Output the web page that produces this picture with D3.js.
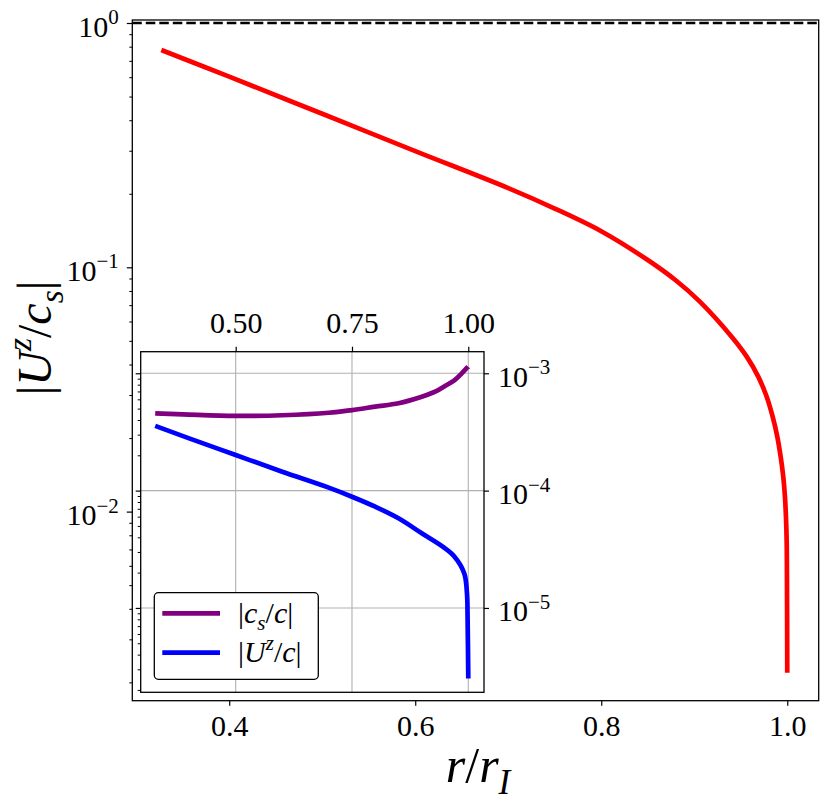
<!DOCTYPE html>
<html>
<head>
<meta charset="utf-8">
<script src="https://cdn.jsdelivr.net/npm/d3@7"></script>
<style>
  body { margin: 0; background: #fff; }
  text { font-family: "Liberation Serif", "DejaVu Serif", serif; fill: #000; }
</style>
</head>
<body>
<script>
// main panel: |U^z / c_s| against r / r_I
const rMain = [0.327, 0.40, 0.50, 0.60, 0.70, 0.75, 0.80, 0.85, 0.88, 0.906, 0.9402, 0.9564, 0.9688, 0.9779, 0.9843, 0.9893, 0.9929, 0.9957, 0.9975, 0.9986, 0.9994, 0.9997, 1.0];
const uzOverCs = [0.775, 0.603, 0.425, 0.299, 0.211, 0.174, 0.1405, 0.1071, 0.0885, 0.0724, 0.0520, 0.0431, 0.0357, 0.02954, 0.02446, 0.02026, 0.01678, 0.01389, 0.01151, 0.00953, 0.00742, 0.00509, 0.00219];
const refLevel = 1.0;

// inset: |c_s / c|
const rCs = [0.327, 0.40, 0.50, 0.60, 0.70, 0.75, 0.80, 0.85, 0.90, 0.93, 0.95, 0.97, 0.985, 0.992, 0.9957, 0.9986, 0.9997, 1.0];
const csOverC = [4.56e-4, 4.44e-4, 4.33e-4, 4.39e-4, 4.61e-4, 4.86e-4, 5.20e-4, 5.55e-4, 6.31e-4, 7.0e-4, 7.80e-4, 8.71e-4, 9.9e-4, 1.06e-3, 1.10e-3, 1.128e-3, 1.135e-3, 1.138e-3];
// inset: |U^z / c|
const rUz = [0.327, 0.40, 0.50, 0.60, 0.70, 0.75, 0.80, 0.85, 0.90, 0.945, 0.97, 0.9914, 0.9972, 0.9985, 1.0];
const uzOverC = [3.56e-4, 2.79e-4, 2.01e-4, 1.45e-4, 1.06e-4, 8.87e-5, 7.29e-5, 5.81e-5, 4.33e-5, 3.33e-5, 2.75e-5, 1.97e-5, 1.33e-5, 8.4e-6, 2.5e-6];

// ticks
const xTicks = [0.4, 0.6, 0.8, 1.0];
const yTickExp = [0, -1, -2];
const insetXTicks = [0.5, 0.75, 1.0];
const insetYExp = [-3, -4, -5];

// labels as math pieces: [text, italic, 'sup' | 'sub']
const xLabel = [['r', 1], ['/'], ['r', 1], ['I', 1, 'sub']];
const yLabel = [['|'], ['U', 1], ['z', 1, 'sup'], ['/'], ['c', 1], ['s', 1, 'sub'], ['|']];
const legendLabels = [
  [['|'], ['c', 1], ['s', 1, 'sub'], ['/'], ['c', 1], ['|']],
  [['|'], ['U', 1], ['z', 1, 'sup'], ['/'], ['c', 1], ['|']]
];
const legendColors = ['purple', '#0000ff'];

let width = 831, height = 805;
let svg = d3.select('body').append('svg')
  .attr('width', width)
  .attr('height', height);

function mathText(t, segs, size) {
  let shift = 0;
  segs.forEach(s => {
    let target = s[2] === 'sup' ? -0.42 * size : s[2] === 'sub' ? 0.24 * size : 0;
    t.append('tspan')
      .attr('dy', target - shift)
      .attr('font-size', s[2] ? size * 0.7 : size)
      .attr('font-style', s[1] ? 'italic' : 'normal')
      .text(s[0]);
    shift = target;
  });
}

function powLabel(t, e, size) {
  t.text(null);
  t.append('tspan').text('10');
  t.append('tspan').attr('dy', -0.42 * size).attr('font-size', size * 0.7)
    .text(e === 0 ? '0' : '\u2212' + (-e));
}

function minorTicks(lo, hi) {
  let out = [];
  for (let e = -7; e <= 1; e++) {
    for (let k = 2; k <= 9; k++) {
      let v = k * Math.pow(10, e);
      if (v >= lo && v <= hi) out.push(v);
    }
  }
  return out;
}

// ---- main axes
let L = 132.3, R = 818.7, T = 20, B = 700.7;
let x = d3.scaleLinear().domain([0.2958, 1.0338]).range([L, R]);
let y = d3.scaleLog().domain([Math.pow(10, -2.774), Math.pow(10, 0.0123)]).range([B, T]);

svg.append('line')
  .attr('x1', L).attr('x2', R)
  .attr('y1', y(refLevel)).attr('y2', y(refLevel))
  .attr('stroke', '#000').attr('stroke-width', 2.6)
  .attr('stroke-dasharray', '9.5,4');

// smooth curve through the read points
let line = d3.line().curve(d3.curveCatmullRom.alpha(0.5));
svg.append('path')
  .attr('d', line(rMain.map((r, i) => [x(r), y(uzOverCs[i])])))
  .attr('fill', 'none').attr('stroke', '#ff0000')
  .attr('stroke-width', 4.7).attr('stroke-linecap', 'butt').attr('stroke-linejoin', 'round');

svg.append('rect')
  .attr('x', L).attr('y', T).attr('width', R - L).attr('height', B - T)
  .attr('fill', 'none').attr('stroke', '#000').attr('stroke-width', 1.3);

// bottom axis
let gx = svg.append('g').attr('transform', `translate(0,${B})`)
  .call(d3.axisBottom(x).tickValues(xTicks).tickSize(5).tickFormat(d3.format('.1f')));
gx.select('.domain').remove();
gx.selectAll('line').attr('stroke-width', 1.2);
gx.selectAll('text').attr('font-size', 30).attr('font-family', null).attr('dy', null).attr('y', 35.5);

// left axis majors + minors
let gyMin = svg.append('g').attr('transform', `translate(${L},0)`)
  .call(d3.axisLeft(y).tickValues(minorTicks(y.domain()[0], y.domain()[1])).tickSize(3).tickFormat(''));
gyMin.select('.domain').remove();
gyMin.selectAll('line').attr('stroke-width', 1);

let gy = svg.append('g').attr('transform', `translate(${L},0)`)
  .call(d3.axisLeft(y).tickValues(yTickExp.map(e => Math.pow(10, e))).tickSize(5.5).tickPadding(8));
gy.select('.domain').remove();
gy.selectAll('line').attr('stroke-width', 1.2);
gy.selectAll('text').attr('font-size', 30).attr('font-family', null).attr('dy', null).attr('y', 13)
  .each(function (d, i) { powLabel(d3.select(this), yTickExp[i], 30); });

// axis titles
let xt = svg.append('text').attr('x', 478).attr('y', 782).attr('text-anchor', 'middle');
mathText(xt, xLabel, 50);
let yt = svg.append('text').attr('transform', 'translate(51,338) rotate(-90)').attr('text-anchor', 'middle');
mathText(yt, yLabel, 48);

// ---- inset
let iL = 140.7, iR = 484, iT = 351.7, iB = 692.3;
let ix = d3.scaleLinear().domain([0.2958, 1.0338]).range([iL, iR]);
let iy = d3.scaleLog().domain([Math.pow(10, -5.719), Math.pow(10, -2.816)]).range([iB, iT]);

svg.append('rect')
  .attr('x', iL).attr('y', iT).attr('width', iR - iL).attr('height', iB - iT)
  .attr('fill', '#fff');

// grid
let grid = svg.append('g').attr('stroke', '#b0b0b0').attr('stroke-width', 1.1);
grid.selectAll('.gx').data(insetXTicks).join('line')
  .attr('x1', d => ix(d)).attr('x2', d => ix(d)).attr('y1', iT).attr('y2', iB);
grid.selectAll('.gy').data(insetYExp).join('line')
  .attr('y1', d => iy(Math.pow(10, d))).attr('y2', d => iy(Math.pow(10, d))).attr('x1', iL).attr('x2', iR);

let series = [[rCs, csOverC], [rUz, uzOverC]];
series.forEach((s, k) => {
  svg.append('path')
    .attr('d', line(s[0].map((r, i) => [ix(r), iy(s[1][i])])))
    .attr('fill', 'none').attr('stroke', legendColors[k])
    .attr('stroke-width', 4.7).attr('stroke-linecap', 'butt').attr('stroke-linejoin', 'round');
});

svg.append('rect')
  .attr('x', iL).attr('y', iT).attr('width', iR - iL).attr('height', iB - iT)
  .attr('fill', 'none').attr('stroke', '#000').attr('stroke-width', 1.3);

// inset top axis
let igx = svg.append('g').attr('transform', `translate(0,${iT})`)
  .call(d3.axisTop(ix).tickValues(insetXTicks).tickSize(5).tickFormat(d3.format('.2f')));
igx.select('.domain').remove();
igx.selectAll('line').attr('stroke-width', 1.2);
igx.selectAll('text').attr('font-size', 30).attr('font-family', null).attr('dy', null).attr('y', -18.5);

// inset left ticks (no labels)
let igl = svg.append('g').attr('transform', `translate(${iL},0)`)
  .call(d3.axisLeft(iy).tickValues(minorTicks(iy.domain()[0], iy.domain()[1])).tickSize(3).tickFormat(''));
igl.select('.domain').remove();
igl.selectAll('line').attr('stroke-width', 1);
let iglM = svg.append('g').attr('transform', `translate(${iL},0)`)
  .call(d3.axisLeft(iy).tickValues(insetYExp.map(e => Math.pow(10, e))).tickSize(5).tickFormat(''));
iglM.select('.domain').remove();
iglM.selectAll('line').attr('stroke-width', 1.2);

// inset right axis with labels
let igr = svg.append('g').attr('transform', `translate(${iR},0)`)
  .call(d3.axisRight(iy).tickValues(insetYExp.map(e => Math.pow(10, e))).tickSize(5).tickPadding(9));
igr.select('.domain').remove();
igr.selectAll('line').attr('stroke-width', 1.2);
igr.selectAll('text').attr('font-size', 30).attr('font-family', null).attr('dy', null).attr('y', 13)
  .each(function (d, i) { powLabel(d3.select(this), insetYExp[i], 30); });

// legend
let leg = svg.append('g');
leg.append('rect')
  .attr('x', 154.3).attr('y', 592.7).attr('width', 164).attr('height', 86.6)
  .attr('rx', 4).attr('fill', '#fff').attr('stroke', '#000').attr('stroke-width', 1.3);
legendLabels.forEach((lab, k) => {
  let ly = 613.3 + k * 39.4;
  leg.append('line')
    .attr('x1', 162.3).attr('x2', 220).attr('y1', ly).attr('y2', ly)
    .attr('stroke', legendColors[k]).attr('stroke-width', 4.7);
  let t = leg.append('text').attr('x', 238).attr('y', ly + 9.5);
  mathText(t, lab, 30);
});
</script>
</body>
</html>
